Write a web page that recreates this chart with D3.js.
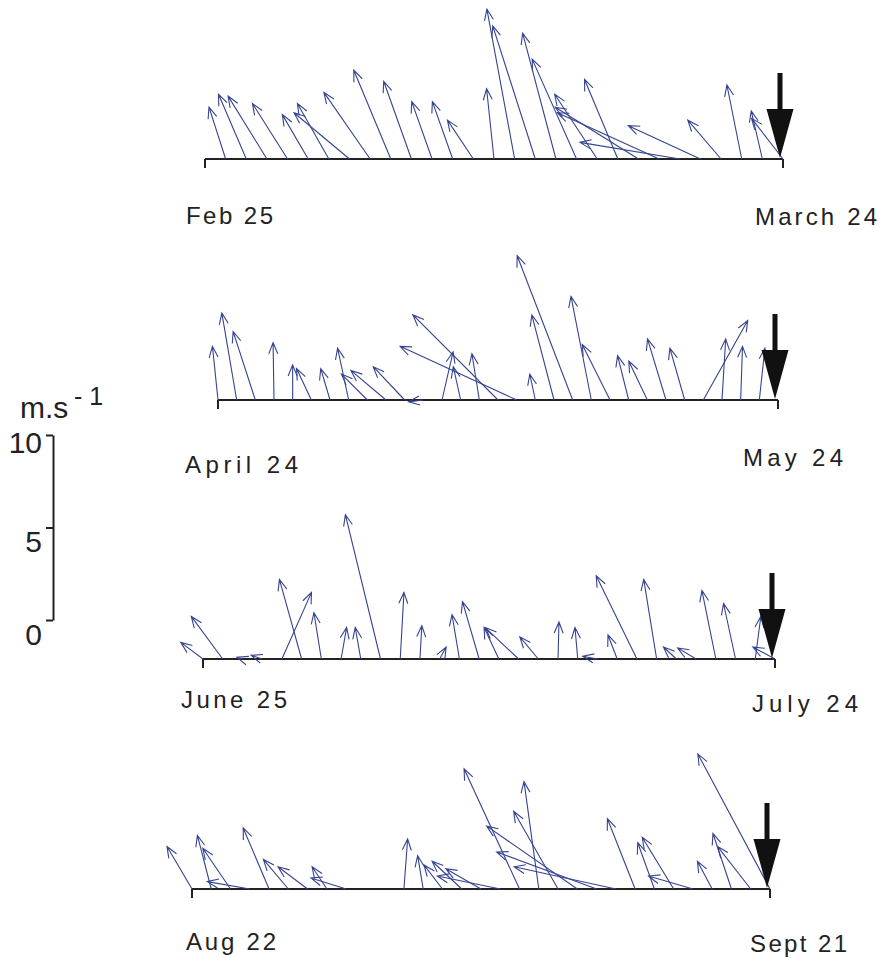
<!DOCTYPE html>
<html>
<head>
<meta charset="utf-8">
<script src="https://cdn.jsdelivr.net/npm/d3@7"></script>
<style>
  body { margin: 0; background: #fff; }
  svg text { font-family: "Liberation Sans", Arial, Helvetica, sans-serif; fill: #222; }
</style>
</head>
<body>
<div id="chart"></div>
<script>
// daily wind vectors, u = east, v = north (m/s)
const days1 = d3.range(1, 29)
const u1 = [-0.9,-1.5,-2.1,-1.9,-1.4,-1.7,-3.0,-2.5,-2.0,-1.5,-1.1,-1.1,-1.4,-0.4,-1.5,-2.3,-1.8,-2.4,-2.3,-1.8,-4.5,-5.5,-5.4,-3.9,-1.8,-0.8,-0.6,-1.7]
const v1 = [2.8,3.5,3.4,3.0,2.4,3.0,2.5,3.6,4.8,4.2,3.1,3.1,2.1,3.8,8.1,7.2,6.8,5.4,3.5,4.3,2.8,2.5,0.9,1.8,2.1,4.0,2.6,2.2]

const days2 = d3.range(0, 30)
const u2 = [-0.3,-0.8,-1.2,-0.05,0,-0.8,-0.5,-0.6,-1.4,-1.9,-1.7,-0.8,0.6,-0.4,-0.4,-4.6,-6.3,-0.3,-1.2,-3.0,-1.1,-1.5,-0.6,-1.0,-1.0,-0.8,2.4,0.2,0.1,0.3]
const v2 = [2.9,4.7,3.7,3.1,1.9,1.7,1.7,2.8,1.4,1.6,1.8,-0.1,2.6,1.8,2.5,4.6,2.9,1.4,4.6,7.8,5.6,3.0,2.4,2.1,3.3,2.8,4.3,3.3,2.9,2.8]

const days3 = d3.range(0, 30)
const u3 = [-1.2,-1.7,-0.3,-0.6,1.6,-1.2,-0.4,0.3,-0.3,-1.9,0.2,0.1,0.35,-0.4,-0.9,-0.8,-1.8,-1.0,0.05,-0.15,-0.8,-0.5,-2.2,-0.7,-0.7,-1.0,-0.75,-0.65,0.3,-1.2]
const v3 = [0.9,2.3,0.1,0.2,3.6,4.3,2.5,1.7,1.7,7.8,3.6,1.8,0.65,2.4,3.1,1.7,1.7,1.2,2.0,1.7,0.15,1.3,4.5,4.3,0.65,0.6,3.7,3.0,2.3,0.65]

// days 9 and 10 calm
const days4 = [0,1,2,3,4,5,6,7,8,11,12,13,14,15,16,17,18,19,20,21,22,23,24,25,26,27,28,29,30]
const u4 = [-1.35,-0.75,-1.5,-2.3,-1.4,-1.35,-1.6,-0.8,-1.9,0.2,-0.3,-1.0,-1.6,-1.9,-3.4,-3.0,-0.8,-2.4,-4.9,-5.4,-5.5,-1.5,-0.9,-1.7,-2.4,-0.8,-1.0,-1.8,-3.9]
const v4 = [2.3,2.9,2.2,0.4,3.3,1.6,1.2,1.2,0.6,2.7,1.8,1.3,1.5,1.1,0.7,6.5,5.8,4.2,3.4,2.0,1.2,3.8,2.5,2.8,0.7,1.5,3.0,2.3,7.3]

const startLabels = ["Feb 25", "April  24", "June 25", "Aug 22"]
const endLabels = ["March  24", "May 24", "July  24", "Sept 21"]
const spanDays = [28, 30, 29, 30]
const scaleTicks = [0, 5, 10]

var W = 883, H = 958
var svg = d3.select("#chart").append("svg").attr("width", W).attr("height", H)

// one m/s in pixels, shared by every panel and the scale bar
var speed = d3.scaleLinear().domain([0, 10]).range([0, 185])

// panel geometry
var panels = [
  { x0: 205, x1: 783, y0: 159, sl: [186, 224, 87], el: [755, 225, 122] },
  { x0: 218, x1: 778, y0: 400, sl: [185, 473, 113], el: [743, 466, 100] },
  { x0: 203, x1: 775, y0: 659, sl: [181, 708, 106], el: [752, 712, 106] },
  { x0: 192, x1: 770, y0: 889, sl: [186, 950, 90], el: [750, 952, 97] }
]
var allDays = [days1, days2, days3, days4]
var allU = [u1, u2, u3, u4]
var allV = [v1, v2, v3, v4]

var headLen = 12, headAng = 22 * Math.PI / 180

panels.forEach(function(p, i) {
  var x = d3.scaleLinear().domain([0, spanDays[i]]).range([p.x0, p.x1])
  var g = svg.append("g")
  var data = allDays[i].map(function(d, k) { return { day: d, u: allU[i][k], v: allV[i][k] } })

  // baseline with end ticks
  g.append("line").attr("x1", x(0)).attr("x2", x(spanDays[i])).attr("y1", p.y0).attr("y2", p.y0)
    .attr("stroke", "#222").attr("stroke-width", 2)
  g.selectAll("line.endtick").data([0, spanDays[i]]).enter().append("line")
    .attr("class", "endtick")
    .attr("x1", function(d) { return x(d) }).attr("x2", function(d) { return x(d) })
    .attr("y1", p.y0).attr("y2", p.y0 + 9)
    .attr("stroke", "#222").attr("stroke-width", 2)

  // sticks
  g.selectAll("path.stick").data(data).enter().append("path")
    .attr("class", "stick")
    .attr("fill", "none")
    .attr("stroke", "#36448f")
    .attr("stroke-width", 1.1)
    .attr("d", function(d) {
      var bx = x(d.day), by = p.y0
      var tx = bx + speed(d.u), ty = by - speed(d.v)
      var a = Math.atan2(ty - by, tx - bx)
      var h1x = tx - headLen * Math.cos(a - headAng), h1y = ty - headLen * Math.sin(a - headAng)
      var h2x = tx - headLen * Math.cos(a + headAng), h2y = ty - headLen * Math.sin(a + headAng)
      return "M" + bx + "," + by + "L" + tx + "," + ty +
        "M" + h1x + "," + h1y + "L" + tx + "," + ty + "L" + h2x + "," + h2y
    })

  // black direction arrow at the end of each panel
  var ax = x(spanDays[i]) - 3
  g.append("rect").attr("x", ax - 2.5).attr("y", p.y0 - 86).attr("width", 5).attr("height", 40).attr("fill", "#111")
  g.append("path").attr("fill", "#111")
    .attr("d", "M" + (ax - 13.5) + "," + (p.y0 - 50) + "L" + (ax + 13.5) + "," + (p.y0 - 50) + "L" + ax + "," + (p.y0 - 1) + "Z")

  // date labels
  g.append("text").attr("x", p.sl[0]).attr("y", p.sl[1]).attr("font-size", 24)
    .attr("textLength", p.sl[2]).attr("lengthAdjust", "spacing").text(startLabels[i])
  g.append("text").attr("x", p.el[0]).attr("y", p.el[1]).attr("font-size", 24)
    .attr("textLength", p.el[2]).attr("lengthAdjust", "spacing").text(endLabels[i])
})

// speed scale bar
var ys = d3.scaleLinear().domain([0, 10]).range([620, 620 - speed(10)])
var sb = svg.append("g").attr("transform", "translate(53,0)")
  .call(d3.axisLeft(ys).tickValues(scaleTicks).tickSize(7).tickSizeOuter(0).tickPadding(4))
sb.select(".domain").attr("stroke", "#222").attr("stroke-width", 2)
sb.selectAll(".tick line").attr("stroke", "#222").attr("stroke-width", 2)
sb.selectAll(".tick text").attr("font-size", 30).attr("fill", "#222")
  .attr("font-family", "Liberation Sans, Arial, sans-serif")
  .attr("dy", function(d) { return d == 10 ? 17 : 24 })

svg.append("text").attr("x", 20).attr("y", 418).attr("font-size", 30).text("m.s")
svg.append("text").attr("x", 74).attr("y", 405).attr("font-size", 25).text("- 1")
</script>
</body>
</html>
